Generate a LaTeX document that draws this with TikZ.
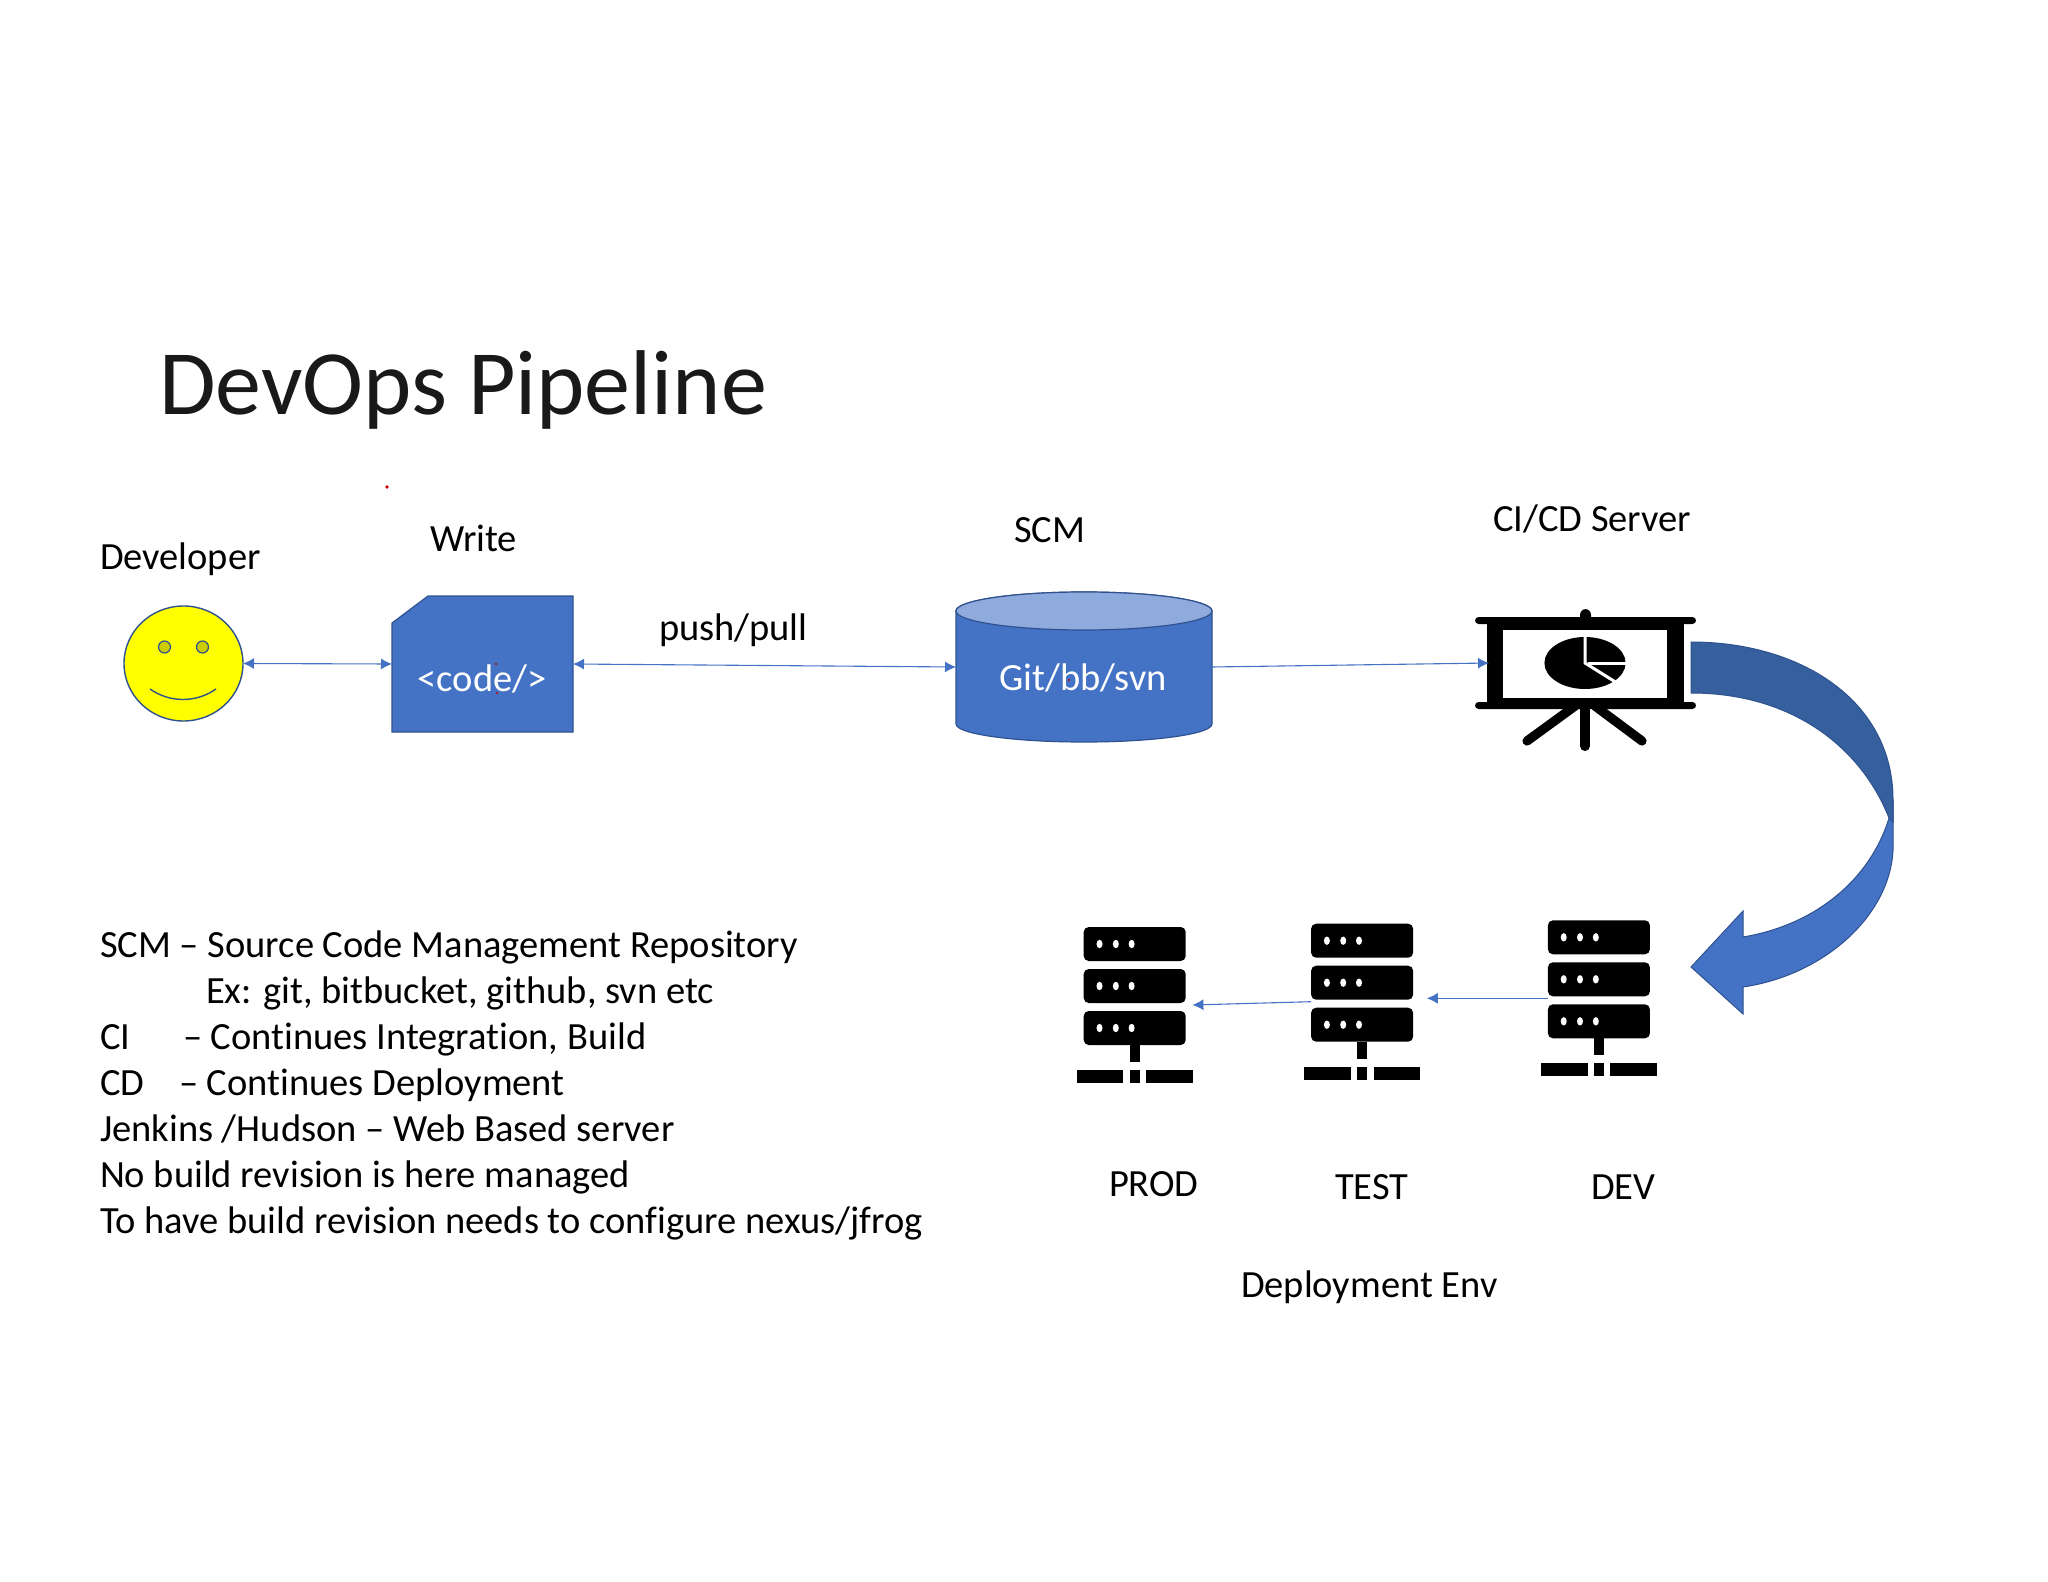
\documentclass[tikz,border=0pt]{standalone}
\usepackage{fontspec}
\setmainfont[Ligatures=NoCommon]{Carlito}
\usetikzlibrary{arrows.meta,shapes.geometric}
\definecolor{mblue}{HTML}{4472C4}
\definecolor{mdark}{HTML}{2F528F}
\definecolor{mtop}{HTML}{8FAADC}
\definecolor{mshade}{HTML}{365F9E}
\definecolor{myel}{HTML}{FFFF00}
\definecolor{meye}{HTML}{CCCC00}
\tikzset{
  lbl/.style={anchor=base west,inner sep=0pt,outer sep=0pt,font=\fontsize{19.25}{22}\selectfont,text=black},
  wlbl/.style={anchor=center,inner sep=0pt,outer sep=0pt,font=\fontsize{19.25}{22}\selectfont,text=white},
  ttl/.style={anchor=base west,inner sep=0pt,outer sep=0pt,font=\fontsize{46}{54}\selectfont,text=black!90},
  anch/.style={inner sep=0pt,outer sep=0pt,draw=none},
  conn/.style={draw=mblue,line width=0.55pt,-{Latex[length=5.5pt,width=5.5pt]}},
  dconn/.style={draw=mblue,line width=0.55pt,{Latex[length=5.5pt,width=5.5pt]}-{Latex[length=5.5pt,width=5.5pt]}},
  shapeb/.style={fill=mblue,draw=mdark,line width=0.6pt},
  bar/.style={fill=black,rounded corners=2.5pt},
  dotw/.style={fill=white},
  reddot/.style={fill=red!80!black},
}
\newcommand{\serverstack}[3]{%
  \begin{scope}[shift={(#2,#3)}]
    \node[anch,minimum width=54.4pt,minimum height=78.5pt] (#1) at (1138,1005) {};
    \foreach \yy in {927,969,1011}{
      \path[bar] (1083.7,\yy) rectangle (1185.7,\yy+34);
      \foreach \xx in {1099.5,1115.8,1131.6}{
        \path[dotw] (\xx,\yy+17) ellipse [x radius=1.5pt,y radius=2.1pt];
      }
    }
    \fill[black] (1130,1045) rectangle (1139.5,1062);
    \fill[black] (1077,1070) rectangle (1123.3,1083);
    \fill[black] (1130,1070) rectangle (1139.5,1083);
    \fill[black] (1146.2,1070) rectangle (1192.5,1083);
  \end{scope}}
\begin{document}
\begin{tikzpicture}[x=0.5pt,y=-0.5pt]
\useasboundingbox (0,0) rectangle (2048,1582);
\fill[white] (0,0) rectangle (2048,1582);

% title and labels
\node[ttl] (title) at (159,415) {DevOps Pipeline};
\node[lbl] (ldev) at (100,570) {Developer};
\node[lbl] (lwrite) at (430,552) {Write};
\node[lbl] (lscm) at (1014,543) {SCM};
\node[lbl] (lci) at (1493,532) {CI/CD Server};
\node[lbl] (lpush) at (659,640) {push/pull};
\fill[reddot] (387,487) circle (0.9pt);

% developer
\node[ellipse,anch,minimum width=59.5pt,minimum height=57.5pt,fill=myel,draw=mdark,line width=0.7pt] (dev) at (183.5,663.5) {};
\filldraw[fill=meye,draw=mdark,line width=0.6pt] (164.5,647) circle (3pt);
\filldraw[fill=meye,draw=mdark,line width=0.6pt] (202.5,647) circle (3pt);
\draw[mdark,line width=0.7pt] (150,689) .. controls (170,703) and (196,703) .. (216,689);

% code doc
\fill[shapeb] (428,596) -- (573,596) -- (573,732) -- (392,732) -- (392,623) -- cycle;
\node[anch,minimum width=90.5pt,minimum height=68pt] (code) at (482.5,664) {};
\node[wlbl] (codet) at (482,679) {<code/>};
\fill[reddot] (496,664) circle (0.6pt);
\fill[reddot] (497,693) circle (0.6pt);

% cylinder
\path[shapeb] (956,611) -- (956,724) arc [start angle=180,end angle=0,x radius=128,y radius=18] -- (1212,611) arc [start angle=0,end angle=-180,x radius=128,y radius=19] -- cycle;
\path[fill=mtop,draw=mdark,line width=0.6pt] (1084,611) ellipse [x radius=64pt,y radius=9.5pt];
\node[anch,minimum width=128pt,minimum height=75pt] (cyl) at (1084,667) {};
\node[wlbl] (cylt) at (1083,678) {Git/bb/svn};
\fill[reddot] (1069,680) circle (0.6pt);

% CI/CD icon
\node[anch,minimum width=98.5pt,minimum height=36pt] (cicd) at (1587.5,663) {};
\fill[black,rounded corners=3pt] (1580,609) rectangle (1591,640);
\fill[black] (1487,620) rectangle (1684,706) ;
\fill[white] (1503,630) rectangle (1667,698);
\fill[black,rounded corners=1.8pt] (1475,617) rectangle (1696,624);
\fill[black,rounded corners=1.8pt] (1475,702) rectangle (1696,709);
\draw[black,line width=5pt,line cap=round] (1585,705) -- (1585,746);
\draw[black,line width=4.6pt,line cap=round] (1575,706) -- (1527,741);
\draw[black,line width=4.6pt,line cap=round] (1595,706) -- (1642,741);
\fill[black] (1585,663) ellipse [x radius=20.3pt,y radius=13pt];
\draw[white,line width=1.5pt] (1585,634) -- (1585,663) -- (1617,683);
\draw[white,line width=1.5pt] (1588,663.5) -- (1628,663.5);

% curved arrow
\path[fill=mblue,draw=mdark,line width=0.5pt] (1889,818) .. controls (1891,815) and (1892,811) .. (1893,800) -- (1893,850)
  .. controls (1890,915) and (1825,975) .. (1743,987) -- (1743,1014) -- (1691,967) -- (1743,911) -- (1743,937)
  .. controls (1815,925) and (1870,880) .. (1889,818) -- cycle;
\path[fill=mshade,draw=mdark,line width=0.5pt] (1691,642) .. controls (1800,642) and (1893,700) .. (1893,800) -- (1893,822) -- (1889,818)
  .. controls (1860,745) and (1790,693) .. (1691,693) -- cycle;

% deployment servers
\serverstack{prod}{0}{0}
\serverstack{test}{227.4}{-3.3}
\serverstack{devsrv}{464.2}{-6.7}
\node[lbl] (lprod) at (1109,1196) {PROD};
\node[lbl] (ltest) at (1335,1199) {TEST};
\node[lbl] (ldevs) at (1591,1199) {DEV};
\node[lbl] (lenv) at (1241,1297) {Deployment Env};

% connectors
\draw[dconn] (dev.east) -- (code.west);
\draw[dconn] (code.east) -- (cyl.west);
\draw[conn] (cyl.east) -- (cicd.west);
\draw[conn,shorten >=3.5pt] (devsrv.west) -- (test.east |- devsrv.west);
\draw[conn] (test.west) -- (prod.east);

% legend
\node[lbl] (t1) at (100,957) {SCM – Source Code Management Repository};
\node[lbl] (t2) at (206,1003) {Ex: git, bitbucket, github, svn etc};
\node[lbl] (t3a) at (100,1049) {CI};
\node[lbl] (t3b) at (183,1049) {– Continues Integration, Build};
\node[lbl] (t4a) at (100,1095) {CD};
\node[lbl] (t4b) at (179,1095) {– Continues Deployment};
\node[lbl] (t5) at (100,1141) {Jenkins /Hudson – Web Based server};
\node[lbl] (t6) at (100,1187) {No build revision is here managed};
\node[lbl] (t7) at (100,1233) {To have build revision needs to configure nexus/jfrog};
\end{tikzpicture}
\end{document}
